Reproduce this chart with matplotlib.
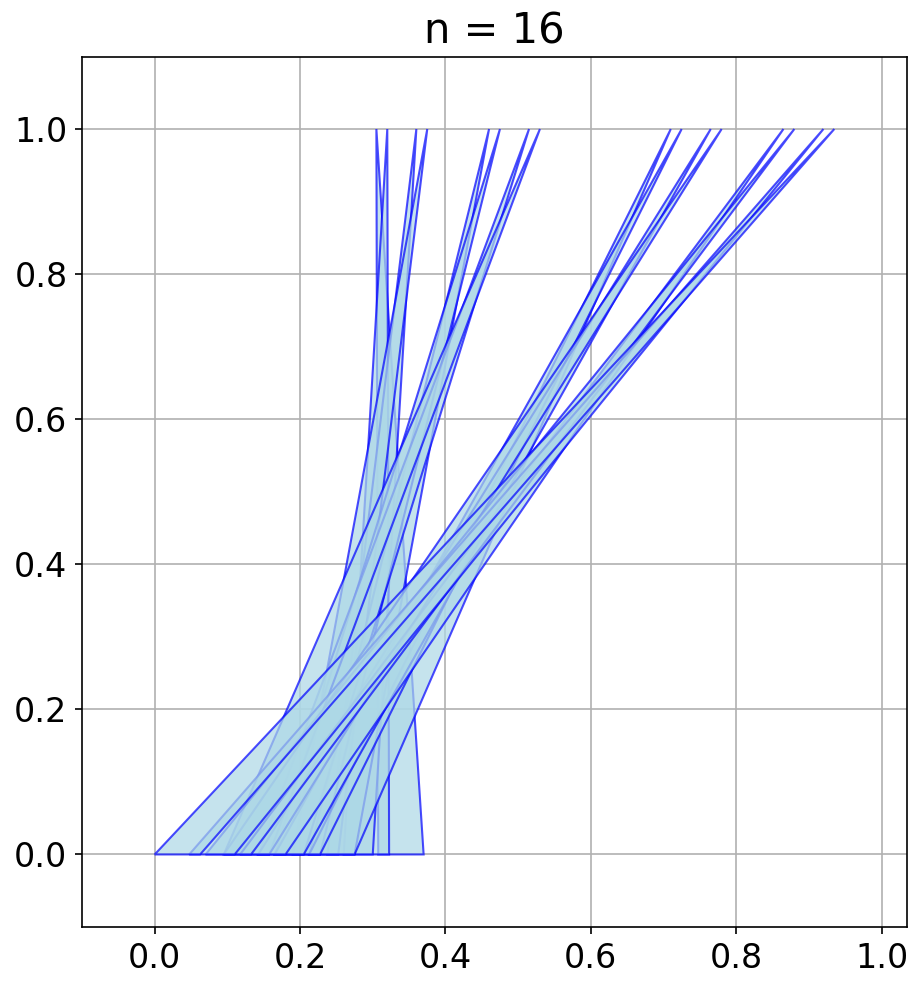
import matplotlib
matplotlib.use("Agg")
import matplotlib.pyplot as plt
from matplotlib.patches import Polygon

# Apex x-positions (at y = 1), in drawing order
apex_x = [0.305, 0.32, 0.36, 0.375, 0.46, 0.475, 0.515, 0.53,
          0.71, 0.725, 0.765, 0.78, 0.865, 0.88, 0.92, 0.935]
# Left base vertex x-positions (at y = 0), same order
base_left = [0.3075, 0.26, 0.2375, 0.19, 0.2125, 0.165, 0.1425, 0.095,
             0.2125, 0.165, 0.1425, 0.095, 0.1175, 0.07, 0.0475, 0.0]
base_width = 0.0625
title = "n = 16"

fig = plt.figure(figsize=(921/150, 988/150), dpi=150)
ax = fig.add_axes([82/921, (988-927)/988, 825/921, (927-56.5)/988])

for t, b in zip(apex_x, base_left):
    poly = Polygon([(b, 0.0), (b + base_width, 0.0), (t, 1.0)], closed=True,
                   facecolor="lightblue", edgecolor="blue", alpha=0.7, linewidth=1.0)
    ax.add_patch(poly)

ax.set_xlim(-0.1, 1.035)
ax.set_ylim(-0.1, 1.1)
ax.set_xticks([0.0, 0.2, 0.4, 0.6, 0.8, 1.0])
ax.set_yticks([0.0, 0.2, 0.4, 0.6, 0.8, 1.0])
ax.tick_params(labelsize=16)
ax.grid(True)
ax.set_axisbelow(True)
ax.set_title(title, fontsize=20)

fig.savefig("out.png", dpi=150)
